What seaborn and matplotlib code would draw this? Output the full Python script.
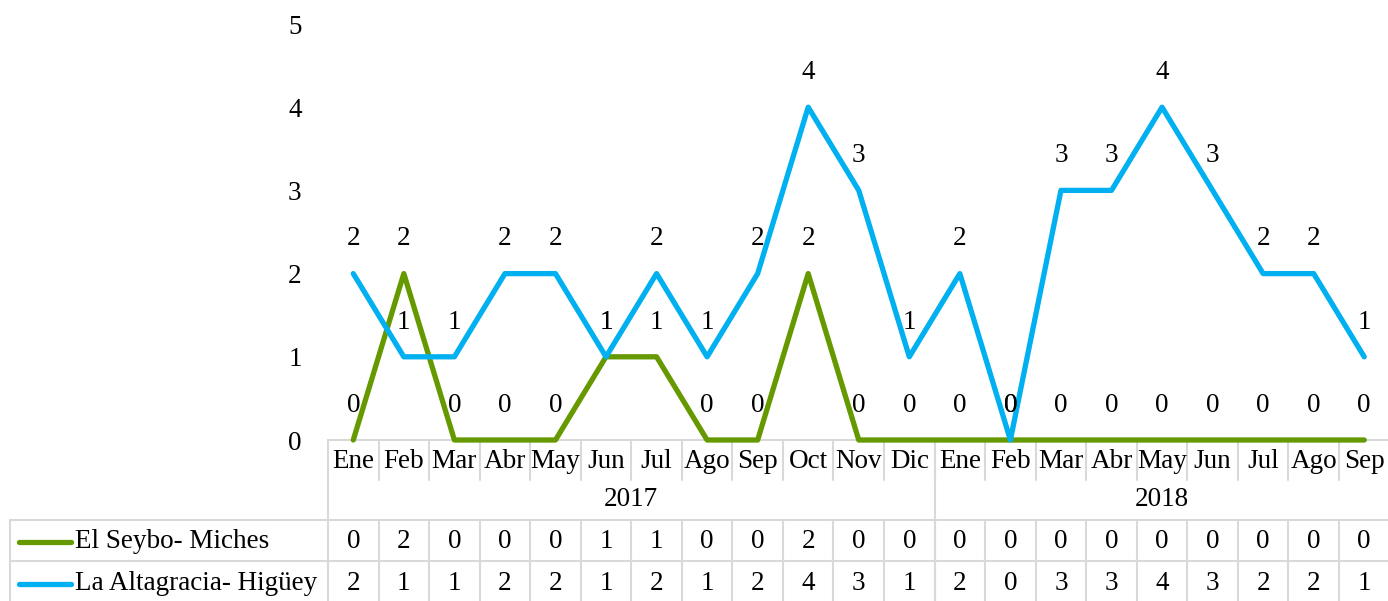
import matplotlib
matplotlib.use("Agg")
import matplotlib.pyplot as plt
import seaborn as sns
import pandas as pd
from matplotlib.transforms import blended_transform_factory

months = ['Ene', 'Feb', 'Mar', 'Abr', 'May', 'Jun', 'Jul', 'Ago', 'Sep', 'Oct', 'Nov', 'Dic',
          'Ene', 'Feb', 'Mar', 'Abr', 'May', 'Jun', 'Jul', 'Ago', 'Sep']
years = ['2017', '2018']
year_counts = [12, 9]
series_names = ['El Seybo- Miches', 'La Altagracia- Higüey']
seybo = [0, 2, 0, 0, 0, 1, 1, 0, 0, 2, 0, 0, 0, 0, 0, 0, 0, 0, 0, 0, 0]
altagracia = [2, 1, 1, 2, 2, 1, 2, 1, 2, 4, 3, 1, 2, 0, 3, 3, 4, 3, 2, 2, 1]
colors = ['#669900', '#00B0F0']
y_ticks = [0, 1, 2, 3, 4, 5]

sns.set_style('white')
plt.rcParams['font.family'] = ['Liberation Serif', 'DejaVu Serif']
plt.rcParams['text.color'] = 'black'
plt.rcParams['ytick.color'] = 'black'
plt.rcParams['ytick.labelcolor'] = 'black'
FS = 19.5
GRID = '#d9d9d9'
TXT = 'black'

W, H = 1388, 601
fig = plt.figure(figsize=(W / 100, H / 100), dpi=100)
ax_left, ax_right, ax_top, ax_bot = 328, 1389.5, 24, 440
ax = fig.add_axes([ax_left / W, 1 - ax_bot / H, (ax_right - ax_left) / W, (ax_bot - ax_top) / H])

rows = []
for name, vals in zip(series_names, [seybo, altagracia]):
    for i, v in enumerate(vals):
        rows.append({'idx': i, 'value': v, 'series': name})
df = pd.DataFrame(rows)

sns.lineplot(data=df, x='idx', y='value', hue='series', palette=colors,
             linewidth=3.8, legend=False, ax=ax, solid_capstyle='round',
             clip_on=False, zorder=3)

ax.set_xlim(-0.5, len(months) - 0.5)
ax.set_ylim(0, 5)
ax.set_yticks(y_ticks)
ax.set_yticklabels([str(t) for t in y_ticks], fontsize=FS, color=TXT)
ax.tick_params(axis='y', length=0, pad=19, labelcolor=TXT)
ax.set_xticks([])
ax.set_xlabel('')
ax.set_ylabel('')
for s in ['left', 'right', 'top']:
    ax.spines[s].set_visible(False)
ax.spines['bottom'].set_color(GRID)
ax.spines['bottom'].set_linewidth(1.5)
ax.spines['bottom'].set_zorder(1)

# data labels
for vals in [seybo, altagracia]:
    for i, v in enumerate(vals):
        ax.annotate(str(v), (i, v), xytext=(0, 25), textcoords='offset points',
                    ha='center', va='center', fontsize=FS, color=TXT, annotation_clip=False)

# table
tr = blended_transform_factory(ax.transData, fig.transFigure)
def fy(px):
    return 1 - px / H

n = len(months)
for i, m in enumerate(months):
    ax.text(i, fy(462), m, transform=tr, ha='center', va='center', fontsize=FS, color=TXT)
    ax.text(i, fy(542), str(seybo[i]), transform=tr, ha='center', va='center', fontsize=FS, color=TXT)
    ax.text(i, fy(584), str(altagracia[i]), transform=tr, ha='center', va='center', fontsize=FS, color=TXT)

start = 0
for y, c in zip(years, year_counts):
    center = start + (c - 1) / 2
    ax.text(center, fy(500), y, transform=tr, ha='center', va='center', fontsize=FS, color=TXT)
    start += c

lw = 1.5
for b in range(1, n):
    xb = b - 0.5
    ax.plot([xb, xb], [fy(440), fy(480)], transform=tr, color=GRID, lw=lw, clip_on=False)
    ax.plot([xb, xb], [fy(520), fy(601)], transform=tr, color=GRID, lw=lw, clip_on=False)
for xb in [-0.5, year_counts[0] - 0.5]:
    ax.plot([xb, xb], [fy(440), fy(601)], transform=tr, color=GRID, lw=lw, clip_on=False)
for yp in [520, 561]:
    fig.add_artist(plt.Line2D([10 / W, 1], [fy(yp), fy(yp)], transform=fig.transFigure,
                              color=GRID, lw=lw))
fig.add_artist(plt.Line2D([10 / W, 10 / W], [fy(520), fy(601)], transform=fig.transFigure,
                          color=GRID, lw=lw))

for name, col, yp in zip(series_names, colors, [542, 584]):
    fig.add_artist(plt.Line2D([19 / W, 71 / W], [fy(yp), fy(yp)], transform=fig.transFigure,
                              color=col, lw=3.8, solid_capstyle='round'))
    fig.text(75 / W, fy(yp), name, ha='left', va='center', fontsize=FS, color=TXT)

fig.savefig('out.png', dpi=100)
